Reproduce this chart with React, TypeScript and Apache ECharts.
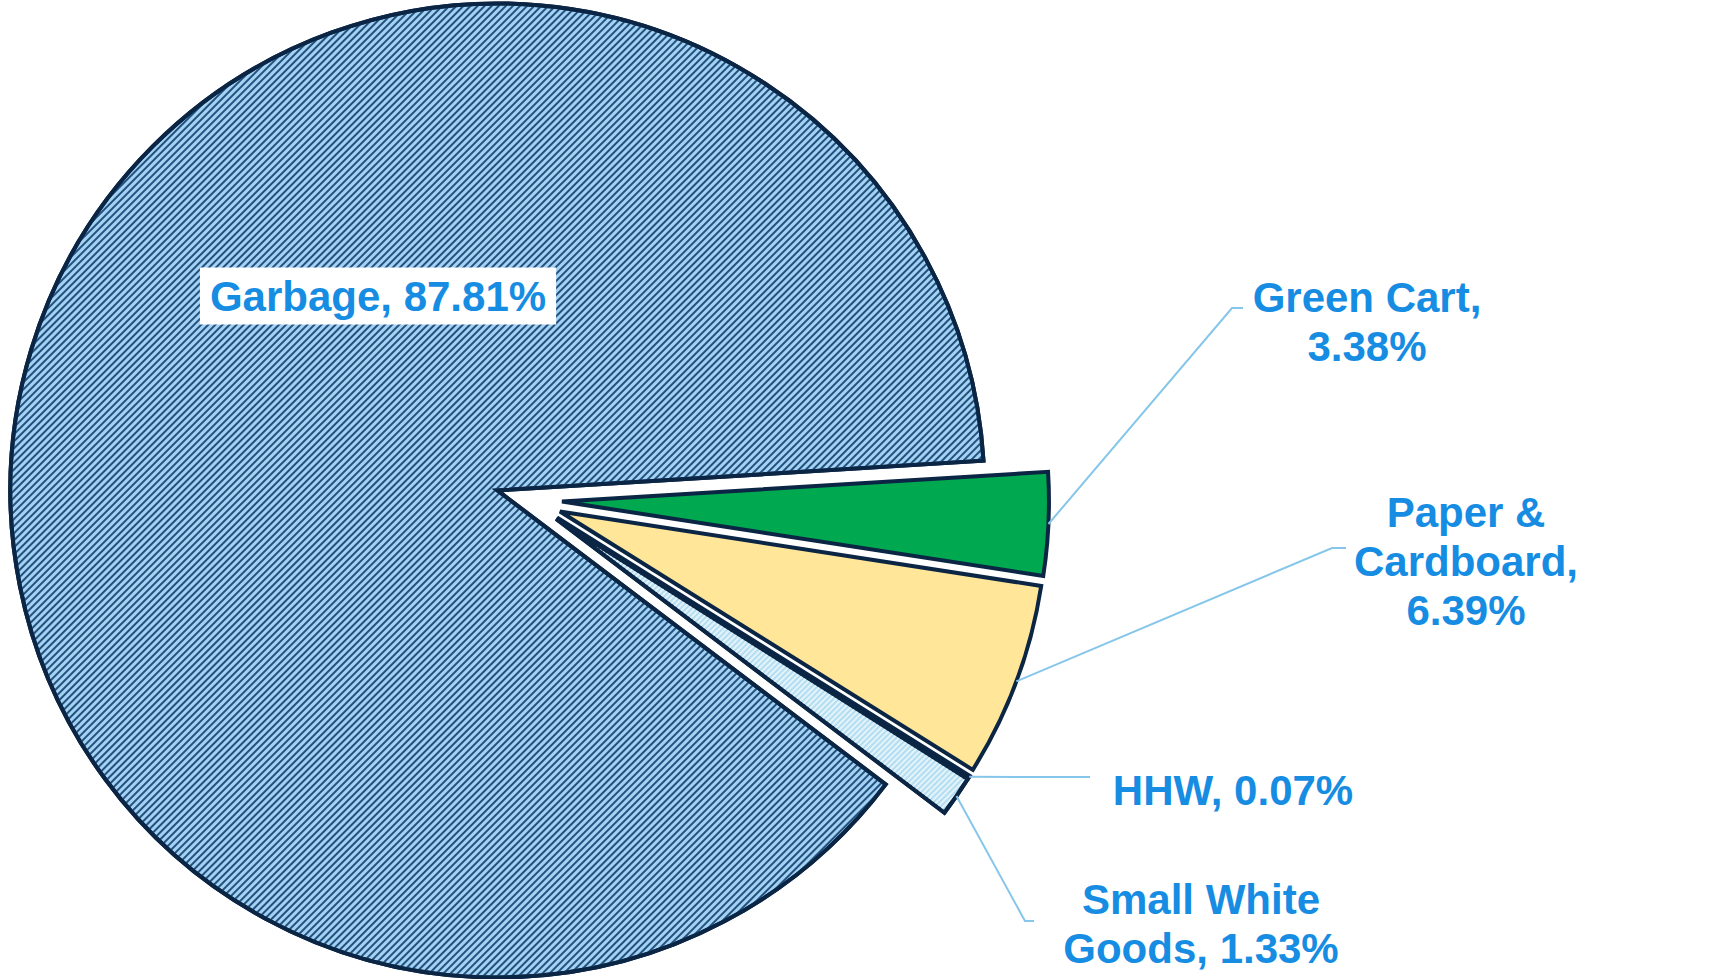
import React, { useEffect, useRef } from "react";
import * as echarts from "echarts";

// ---- data ----
const categories = ["Green Cart", "Paper & Cardboard", "HHW", "Small White Goods", "Garbage"];
const values = [3.38, 6.39, 0.07, 1.33, 87.81];
const labelPrefixes = ["Green Cart,\n", "Paper &\nCardboard,\n", "HHW, ", "Small White\nGoods, ", "Garbage, "];

// ---- styles / layout ----
const fillColors = ["#00a84f", "#ffe699", "#1f3b63", "#b3def2", "#a3d2f2"];
const borderColor = "#0b2545";
const labelColor = "#168de2";
const leaderColor = "#86c6ea";
const CENTER = [529, 500];
const RADIUS = 487;
const START_ANGLE = 3.5;
const OFFSET = 33;
const labelAnchors: number[][] = [
  [1367, 322],
  [1466, 561],
  [1233, 790],
  [1201, 924],
  [378, 296],
];
const leaderBends: (number[][] | null)[] = [
  [[1232, 308], [1243, 308]],
  [[1332, 548], [1346, 548]],
  [[1080, 777], [1090, 777]],
  [[1025, 921], [1034, 921]],
  null,
];

const FONT = "bold 42px 'Liberation Sans', Arial, sans-serif";

export default function App() {
  const ref = useRef<HTMLDivElement>(null);
  useEffect(() => {
    if (!ref.current) return;
    const chart = echarts.init(ref.current, null, { renderer: "svg" });
    const data = categories.map((name, i) => {
      const item: any = {
        name,
        value: values[i],
        selected: true,
        itemStyle: { color: fillColors[i] },
      };
      if (name === "Garbage") {
        item.itemStyle.decal = {
          symbol: "rect",
          symbolSize: 1,
          color: "#22507f",
          dashArrayX: [1, 0],
          dashArrayY: [1.8, 2.5],
          rotation: -Math.PI / 4,
        };
      }
      if (name === "Small White Goods") {
        item.itemStyle.decal = {
          symbol: "rect",
          symbolSize: 1,
          color: "rgba(255,255,255,0.65)",
          dashArrayX: [1, 0],
          dashArrayY: [1.5, 1.8],
          rotation: -Math.PI / 4,
        };
      }
      return item;
    });

    // leader lines & labels derived from the data values
    const total = values.reduce((a, b) => a + b, 0);
    let cum = 0;
    const graphics: any[] = [];
    values.forEach((v, i) => {
      const midDeg = START_ANGLE - ((cum + v / 2) / total) * 360;
      cum += v;
      const t = (midDeg * Math.PI) / 180;
      const sx = CENTER[0] + (RADIUS + OFFSET) * Math.cos(t);
      const sy = CENTER[1] - (RADIUS + OFFSET) * Math.sin(t);
      const b = leaderBends[i];
      if (b) {
        graphics.push({
          type: "polyline",
          silent: true,
          shape: { points: [[sx, sy], b[0], b[1]] },
          style: { stroke: leaderColor, lineWidth: 2, fill: "none" },
          z: 10,
        });
      }
      const isGarbage = categories[i] === "Garbage";
      graphics.push({
        type: "text",
        silent: true,
        x: labelAnchors[i][0],
        y: labelAnchors[i][1],
        z: 20,
        style: {
          text: labelPrefixes[i] + v.toFixed(2) + "%",
          font: FONT,
          fill: labelColor,
          align: "center",
          verticalAlign: "middle",
          lineHeight: 49,
          backgroundColor: isGarbage ? "#ffffff" : undefined,
          padding: isGarbage ? [4, 10] : undefined,
        },
      });
    });

    chart.setOption({
      animation: false,
      series: [
        {
          type: "pie",
          center: CENTER,
          radius: RADIUS,
          startAngle: START_ANGLE,
          clockwise: true,
          selectedMode: "multiple",
          selectedOffset: OFFSET,
          avoidLabelOverlap: false,
          emphasis: { disabled: true },
          itemStyle: { borderColor, borderWidth: 4, borderJoin: "miter" },
          label: { show: false },
          labelLine: { show: false },
          data,
        },
      ],
      graphic: graphics,
    });
    return () => chart.dispose();
  }, []);
  return (
    <div
      ref={ref}
      style={{ position: "absolute", left: 0, top: 0, width: 1709, height: 979, background: "#ffffff" }}
    />
  );
}
